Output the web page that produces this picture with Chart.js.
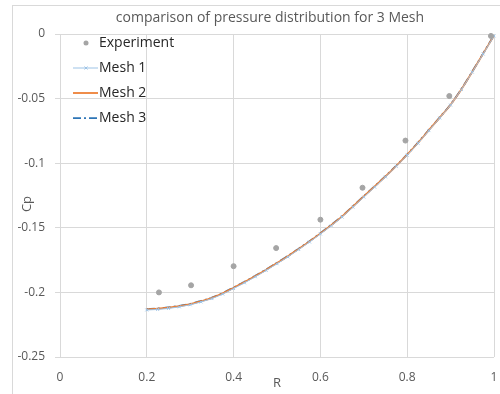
<!DOCTYPE html>
<html>
<head>
<meta charset="utf-8">
<script src="https://cdn.jsdelivr.net/npm/chart.js@4.4.1/dist/chart.umd.min.js"></script>
<style>
  html, body { margin:0; padding:0; background:#fff; }
  #wrap { width:500px; height:394px; position:relative; }
</style>
</head>
<body>
<div id="wrap"><canvas id="cpChart" width="500" height="394"></canvas></div>
<script>
// experiment points
const expR  = [0.228, 0.302, 0.400, 0.498, 0.600, 0.697, 0.796, 0.897, 0.993];
const expCp = [-0.2000, -0.1945, -0.1797, -0.1657, -0.1437, -0.1190, -0.0825, -0.0480, -0.0015];

// mesh results (same radial stations for all three meshes)
const meshR = [0.200, 0.225, 0.250, 0.275, 0.300, 0.325, 0.350, 0.375, 0.400, 0.425, 0.450,
               0.475, 0.500, 0.525, 0.550, 0.575, 0.600, 0.625, 0.650, 0.675, 0.700, 0.725,
               0.750, 0.775, 0.800, 0.825, 0.850, 0.875, 0.900, 0.925, 0.950, 0.975, 1.000];
const mesh1Cp = [-0.2136, -0.2132, -0.2124, -0.2112, -0.2096, -0.2074, -0.2048, -0.2013, -0.1970, -0.1926, -0.1879,
                 -0.1830, -0.1778, -0.1725, -0.1668, -0.1610, -0.1548, -0.1484, -0.1417, -0.1340, -0.1262, -0.1185,
                 -0.1106, -0.1024, -0.0938, -0.0846, -0.0748, -0.0650, -0.0550, -0.0430, -0.0295, -0.0155, -0.0015];
const mesh2Cp = [-0.2130, -0.2126, -0.2118, -0.2106, -0.2090, -0.2068, -0.2042, -0.2007, -0.1964, -0.1920, -0.1873,
                 -0.1824, -0.1773, -0.1720, -0.1663, -0.1605, -0.1543, -0.1479, -0.1412, -0.1335, -0.1257, -0.1180,
                 -0.1102, -0.1020, -0.0934, -0.0842, -0.0744, -0.0647, -0.0547, -0.0427, -0.0292, -0.0152, -0.0012];
const mesh3Cp = [-0.2128, -0.2124, -0.2116, -0.2104, -0.2088, -0.2066, -0.2040, -0.2005, -0.1962, -0.1918, -0.1871,
                 -0.1822, -0.1771, -0.1718, -0.1661, -0.1603, -0.1541, -0.1477, -0.1410, -0.1333, -0.1255, -0.1178,
                 -0.1100, -0.1018, -0.0932, -0.0840, -0.0742, -0.0645, -0.0545, -0.0425, -0.0290, -0.0150, -0.0010];

const xTicks = [0, 0.2, 0.4, 0.6, 0.8, 1];
const yTicks = [0, -0.05, -0.1, -0.15, -0.2, -0.25];

const titleText = 'comparison of pressure distribution for 3 Mesh';
const FONT = "'Open Sans', 'DejaVu Sans', sans-serif";

function pts(xs, ys){
  return xs.map((x, i) => ({x: x, y: ys[i]}));
}

// frame, title, axis titles and the in-plot legend
const decorPlugin = {
  id: 'decor',
  beforeDraw(chart){
    const ctx = chart.ctx;
    ctx.save();
    ctx.fillStyle = '#fff';
    ctx.fillRect(0, 0, chart.width, chart.height);
    ctx.strokeStyle = '#D9D9D9';
    ctx.lineWidth = 1;
    ctx.strokeRect(12.5, 5.5, 700, 700);
    ctx.restore();
  },
  afterDraw(chart){
    const ctx = chart.ctx;
    const area = chart.chartArea;
    ctx.save();
    ctx.fillStyle = '#595959';
    ctx.textAlign = 'center';
    ctx.textBaseline = 'middle';
    ctx.font = '14px ' + FONT;
    ctx.fillText(titleText, 270, 18);

    ctx.font = '13px ' + FONT;
    ctx.fillText('R', (area.left + area.right) / 2, 383);
    ctx.save();
    ctx.translate(27, 204);
    ctx.rotate(-Math.PI / 2);
    ctx.fillText('Cp', 0, 0);
    ctx.restore();

    // legend
    const rows = [43, 68, 93, 118];
    ctx.font = '14px ' + FONT;
    ctx.textAlign = 'left';
    chart.data.datasets.forEach((ds, i) => {
      const y = rows[i];
      if(i === 0){
        ctx.beginPath();
        ctx.fillStyle = ds.backgroundColor;
        ctx.arc(86, y, 2.5, 0, Math.PI * 2);
        ctx.fill();
      } else {
        ctx.beginPath();
        ctx.strokeStyle = ds.borderColor;
        ctx.lineWidth = ds.borderWidth;
        ctx.setLineDash(ds.borderDash || []);
        ctx.moveTo(73, y);
        ctx.lineTo(98, y);
        ctx.stroke();
        ctx.setLineDash([]);
        if(ds.pointRadius > 0){
          ctx.beginPath();
          ctx.lineWidth = 1;
          ctx.moveTo(84.5, y - 1.5); ctx.lineTo(87.5, y + 1.5);
          ctx.moveTo(87.5, y - 1.5); ctx.lineTo(84.5, y + 1.5);
          ctx.stroke();
        }
      }
      ctx.fillStyle = '#262626';
      ctx.fillText(ds.label, 99, y);
    });
    ctx.restore();
  }
};

new Chart(document.getElementById('cpChart'), {
  type: 'scatter',
  data: {
    datasets: [
      { label: 'Experiment', data: pts(expR, expCp), backgroundColor: '#A5A5A5', borderColor: '#A5A5A5',
        pointRadius: 2.5, showLine: false },
      { label: 'Mesh 1', data: pts(meshR, mesh1Cp), borderColor: '#9DC3E6', backgroundColor: '#9DC3E6',
        borderWidth: 1, pointStyle: 'crossRot', pointRadius: 2, pointBorderWidth: 1, showLine: true },
      { label: 'Mesh 2', data: pts(meshR, mesh2Cp), borderColor: '#ED7D31', backgroundColor: '#ED7D31',
        borderWidth: 1.75, pointRadius: 0, showLine: true, cubicInterpolationMode: 'monotone' },
      { label: 'Mesh 3', data: pts(meshR, mesh3Cp), borderColor: '#2E75B6', backgroundColor: '#2E75B6',
        borderWidth: 1.75, borderDash: [8, 3, 2, 3], pointRadius: 0, showLine: true, cubicInterpolationMode: 'monotone' }
    ]
  },
  options: {
    responsive: false,
    animation: false,
    clip: false,
    layout: { padding: { left: 0, top: 34, right: 6, bottom: 0 } },
    plugins: { legend: { display: false }, title: { display: false }, tooltip: { enabled: false } },
    scales: {
      x: {
        type: 'linear', min: 0, max: 1,
        afterFit(s){ s.height = 37; s.paddingLeft = 0; s.paddingRight = 0; },
        afterBuildTicks(s){ s.ticks = xTicks.map(v => ({value: v})); },
        grid: { color: '#D9D9D9', drawTicks: false },
        border: { display: false },
        ticks: { color: '#595959', font: { family: FONT, size: 12 }, padding: 13,
                 maxRotation: 0, callback: v => String(v) }
      },
      y: {
        type: 'linear', min: -0.25, max: 0,
        afterFit(s){ s.width = 60; s.paddingTop = 0; s.paddingBottom = 0; },
        afterBuildTicks(s){ s.ticks = yTicks.map(v => ({value: v})); },
        grid: { color: '#D9D9D9', tickLength: 5 },
        border: { display: false },
        ticks: { color: '#595959', font: { family: FONT, size: 12 }, padding: 10,
                 callback: v => String(v) }
      }
    }
  },
  plugins: [decorPlugin]
});
</script>
</body>
</html>
